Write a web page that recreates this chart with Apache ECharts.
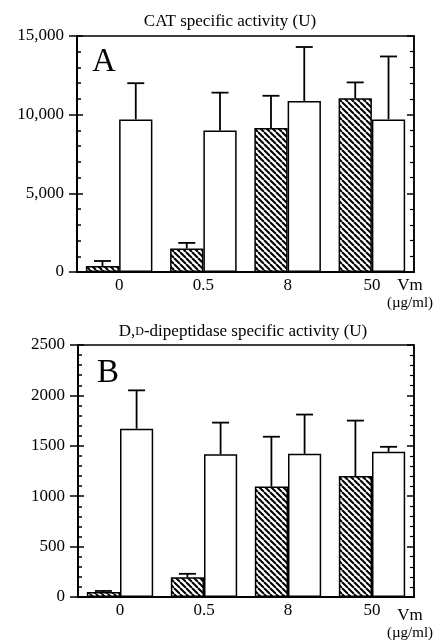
<!DOCTYPE html>
<html>
<head>
<meta charset="utf-8">
<script src="https://cdn.jsdelivr.net/npm/echarts@6/dist/echarts.min.js"></script>
<style>
  html, body { margin: 0; padding: 0; background: #fff; }
  #chart { width: 441px; height: 643px; }
</style>
</head>
<body>
<div id="chart"></div>
<script>
// categories (Vm, µg/ml)
var doses = ['0', '0.5', '8', '50'];

// panel A: CAT specific activity
var catHatched   = [380, 1500, 9150, 11050];
var catHatchedHi = [700, 1850, 11200, 12050];
var catOpen      = [9700, 9000, 10870, 9700];
var catOpenHi    = [12000, 11400, 14300, 13700];
var catTicks     = ['0', '5,000', '10,000', '15,000'];

// panel B: D,D-dipeptidase specific activity
var ddpHatched   = [50, 195, 1095, 1200];
var ddpHatchedHi = [60, 230, 1590, 1750];
var ddpOpen      = [1670, 1415, 1420, 1440];
var ddpOpenHi    = [2050, 1730, 1810, 1490];
var ddpTicks     = ['0', '500', '1000', '1500', '2000', '2500'];

var FONT = '"Liberation Serif", "DejaVu Serif", serif';
var CAT_GAP = 0.21;

// diagonal hatch pattern
function makeHatch(){
  var s = 6;
  var c = document.createElement('canvas');
  c.width = s; c.height = s;
  var ctx = c.getContext('2d');
  ctx.fillStyle = '#fff';
  ctx.fillRect(0, 0, s, s);
  ctx.strokeStyle = '#000';
  ctx.lineWidth = 2;
  [-s, 0, s].forEach(function(k){
    ctx.beginPath();
    ctx.moveTo(k, 0);
    ctx.lineTo(k + s, s);
    ctx.stroke();
  });
  return c;
}
var hatch = { image: makeHatch(), repeat: 'repeat' };

function yAxes(gi, max, interval, ticks){
  var fmt = function(v){ return ticks[Math.round(v / interval)] || ''; };
  var base = { gridIndex: gi, type: 'value', min: 0, max: max, interval: interval, splitLine: { show: false } };
  return [
    // left axis with labels, major ticks outward
    Object.assign({}, base, {
      position: 'left',
      axisLine: { show: true, lineStyle: { color: '#000', width: 2 } },
      axisTick: { show: true, inside: false, length: 8, lineStyle: { color: '#000', width: 1.5 } },
      axisLabel: { color: '#000', fontFamily: FONT, fontSize: 17, margin: 13, formatter: fmt }
    }),
    // left axis inner ticks
    Object.assign({}, base, {
      position: 'left',
      axisLine: { show: false },
      axisTick: { show: true, inside: true, length: 6, lineStyle: { color: '#000', width: 1.5 } },
      minorTick: { show: true, splitNumber: 5, length: 4, lineStyle: { color: '#000', width: 1.5 } },
      axisLabel: { show: false }
    }),
    // right frame
    Object.assign({}, base, {
      position: 'right',
      axisLine: { show: true, lineStyle: { color: '#000', width: 1.5 } },
      axisTick: { show: true, inside: true, length: 7, lineStyle: { color: '#000', width: 1.5 } },
      minorTick: { show: true, splitNumber: 5, length: 4, lineStyle: { color: '#000', width: 1.2 } },
      axisLabel: { show: false }
    })
  ];
}

function bars(xi, yi, data, color){
  return {
    type: 'bar', xAxisIndex: xi, yAxisIndex: yi, data: data,
    barGap: '0%', barCategoryGap: (CAT_GAP * 100) + '%',
    itemStyle: { color: color, borderColor: '#000', borderWidth: 1.5 },
    silent: true, z: 2
  };
}

function errors(xi, yi, vals, hi, side){
  return {
    type: 'custom', xAxisIndex: xi, yAxisIndex: yi, z: 3, silent: true,
    data: hi.map(function(h, i){ return [i, h, vals[i]]; }),
    encode: { x: 0, y: 1 },
    renderItem: function(params, api){
      var band = api.size([1, 0])[0];
      var bw = band * (1 - CAT_GAP) / 2;
      var top = api.coord([api.value(0), api.value(1)]);
      var bot = api.coord([api.value(0), api.value(2)]);
      var cx = top[0] + side * bw / 2;
      var st = { stroke: '#000', lineWidth: 1.8 };
      return {
        type: 'group',
        children: [
          { type: 'line', shape: { x1: cx, y1: bot[1], x2: cx, y2: top[1] }, style: st },
          { type: 'line', shape: { x1: cx - 8.5, y1: top[1], x2: cx + 8.5, y2: top[1] }, style: st }
        ]
      };
    }
  };
}

function xAxis(gi){
  return {
    gridIndex: gi, type: 'category', data: doses,
    axisLine: { show: true, lineStyle: { color: '#000', width: 2 } },
    axisTick: { show: false },
    axisLabel: { color: '#000', fontFamily: FONT, fontSize: 17, margin: 5 }
  };
}

function txt(x, y, text, size, extra){
  return {
    type: 'text', x: x, y: y, silent: true,
    style: Object.assign({ text: text, fill: '#000', font: size + 'px ' + FONT, align: 'center', verticalAlign: 'middle' }, extra || {})
  };
}

var chart = echarts.init(document.getElementById('chart'));
var option = {
  backgroundColor: '#fff',
  animation: false,
  grid: [
    { left: 77, top: 36, width: 337, height: 236, show: true, borderColor: '#000', borderWidth: 1.5 },
    { left: 78, top: 345, width: 336, height: 252, show: true, borderColor: '#000', borderWidth: 1.5 }
  ],
  xAxis: [xAxis(0), xAxis(1)],
  yAxis: [].concat(yAxes(0, 15000, 5000, catTicks), yAxes(1, 2500, 500, ddpTicks)),
  series: [
    bars(0, 0, catHatched, hatch),
    bars(0, 0, catOpen, '#fff'),
    errors(0, 0, catHatched, catHatchedHi, -1),
    errors(0, 0, catOpen, catOpenHi, 1),
    bars(1, 3, ddpHatched, hatch),
    bars(1, 3, ddpOpen, '#fff'),
    errors(1, 3, ddpHatched, ddpHatchedHi, -1),
    errors(1, 3, ddpOpen, ddpOpenHi, 1)
  ],
  graphic: [
    txt(230, 22, 'CAT specific activity (U)', 17),
    txt(104, 62, 'A', 33),
    txt(410, 286, 'Vm', 17),
    txt(410, 303, '(µg/ml)', 15),
    {
      type: 'text', x: 243, y: 332, silent: true,
      style: {
        text: 'D,{sc|D}-dipeptidase specific activity (U)',
        fill: '#000', font: '17px ' + FONT, align: 'center', verticalAlign: 'middle',
        rich: { sc: { fontSize: 12, fontFamily: FONT, fill: '#000' } }
      }
    },
    txt(108, 373, 'B', 33),
    txt(410, 616, 'Vm', 17),
    txt(410, 633, '(µg/ml)', 15)
  ]
};
chart.setOption(option);
</script>
</body>
</html>
